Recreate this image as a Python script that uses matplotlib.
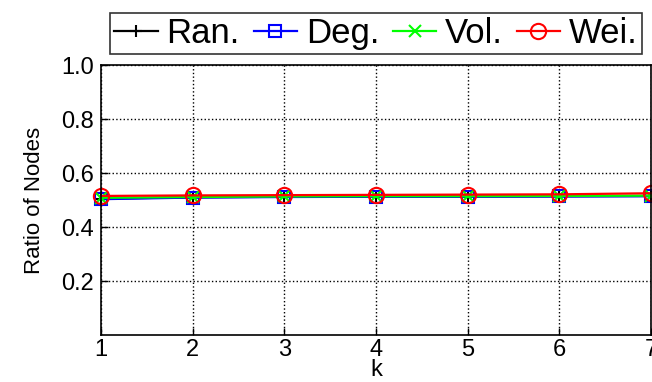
import matplotlib
matplotlib.use("Agg")
import matplotlib.pyplot as plt

plt.rcParams['font.family'] = ['Liberation Sans', 'DejaVu Sans']

k = [1, 2, 3, 4, 5, 6, 7]
ran = [0.505, 0.510, 0.512, 0.513, 0.513, 0.514, 0.515]
deg = [0.503, 0.509, 0.511, 0.512, 0.512, 0.513, 0.514]
vol = [0.508, 0.511, 0.513, 0.514, 0.514, 0.515, 0.516]
wei = [0.515, 0.517, 0.518, 0.519, 0.520, 0.521, 0.525]

series = [
    ("Ran.", ran, 'k', '+'),
    ("Deg.", deg, 'b', 's'),
    ("Vol.", vol, '#00ff00', 'x'),
    ("Wei.", wei, 'r', 'o'),
]

fig = plt.figure(figsize=(6.52, 3.82), dpi=100)
ax = fig.add_axes([101/652, 47/382, 550/652, 270/382])

for name, vals, col, mk in series:
    ax.plot(k, vals, color=col, marker=mk, markersize=11 if mk == 'o' else 8,
            markerfacecolor='none', markeredgecolor=col, markeredgewidth=1.5,
            linewidth=1.6, label=name, clip_on=False)

ax.set_xlim(1, 7)
ax.set_ylim(0, 1)
ax.set_xticks(k)
ax.set_yticks([0.2, 0.4, 0.6, 0.8, 1.0])
ax.set_yticklabels(['0.2', '0.4', '0.6', '0.8', '1.0'])
ax.grid(True, color='k', linestyle=':', linewidth=1)
ax.tick_params(direction='in', labelsize=17, length=5, width=1, pad=5)
ax.tick_params(axis='x', pad=3)
for s in ax.spines.values():
    s.set_linewidth(1.2)
ax.set_xlabel('k', fontsize=17, labelpad=-1.5)
ax.set_ylabel('Ratio of Nodes', fontsize=16, labelpad=12)

leg = ax.legend(loc='lower center', bbox_to_anchor=(0.5, 1.04), ncol=4,
                fontsize=25, frameon=True, fancybox=False, borderpad=0.12,
                handlelength=1.25, handletextpad=0.25, columnspacing=0.4,
                borderaxespad=0)
leg.get_frame().set_edgecolor('k')
leg.get_frame().set_linewidth(1.2)

fig.savefig('out.png', dpi=100)
